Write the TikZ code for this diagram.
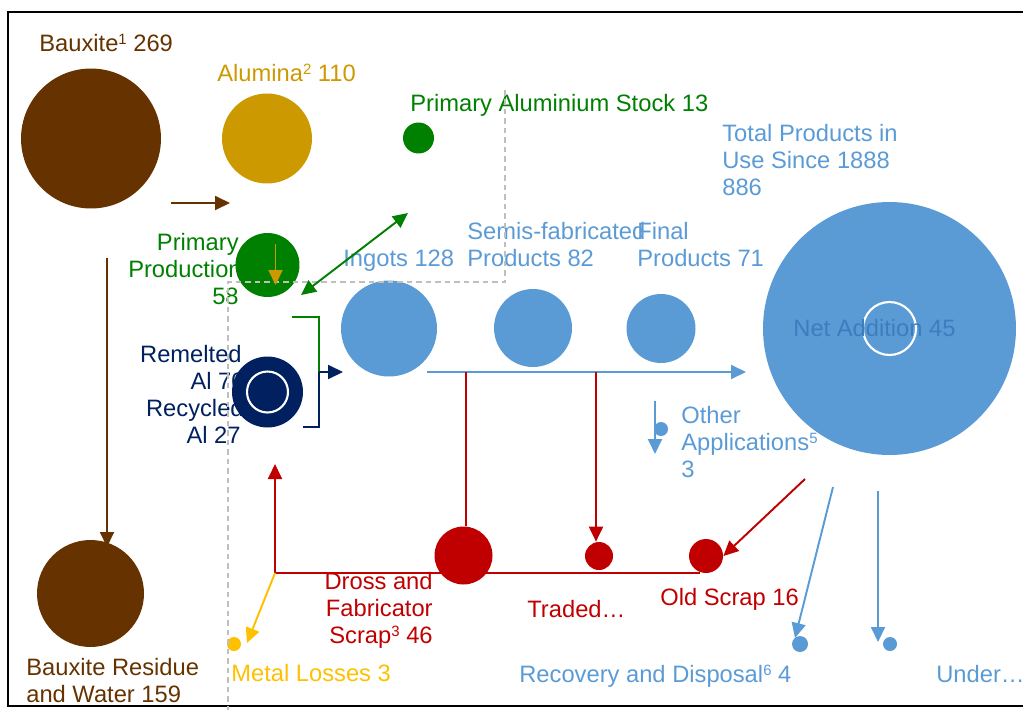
\documentclass[tikz,border=0pt]{standalone}
\usepackage{fontspec}
\setmainfont{Liberation Sans}
\usetikzlibrary{arrows.meta}

\definecolor{bauxitebrown}{HTML}{663300}
\definecolor{aluminagold}{HTML}{CC9900}
\definecolor{primarygreen}{HTML}{008000}
\definecolor{productblue}{HTML}{5B9BD5}
\definecolor{netblue}{HTML}{3D7DBF}
\definecolor{scrapnavy}{HTML}{002060}
\definecolor{scrapred}{HTML}{C00000}
\definecolor{lossyellow}{HTML}{FFC000}
\definecolor{boundarygrey}{HTML}{BFBFBF}

\newcommand{\notemark}[1]{\raisebox{0.55ex}{\fontsize{8.5}{8.5}\selectfont #1}}

\tikzset{
  blob/.style={circle, inner sep=0pt, fill=#1},
  ring/.style={circle, inner sep=0pt, draw=white, line width=1.2pt},
  txt/.style={text=#1, inner sep=0pt},
  flow/.style={draw=#1, line width=1.1pt, -{Triangle[length=3mm,width=2.8mm]}},
  plainflow/.style={draw=#1, line width=1.1pt},
  boundary/.style={draw=boundarygrey, line width=0.8pt, dash pattern=on 1.1mm off 0.8mm},
}

\begin{document}
\begin{tikzpicture}[x=0.02cm, y=-0.02cm, font=\fontsize{13.5}{15}\selectfont]
		\useasboundingbox (0,0) rectangle (1023,710);
		\draw[line width=1pt] (8,12) rectangle (1060,706);
		% labels
		\node[txt=bauxitebrown, anchor=base west] (bauxitetext) at (39,51) {Bauxite\notemark{1} 269};
		\node[txt=aluminagold, anchor=base west] (aluminatext) at (217,81) {Alumina\notemark{2} 110};
		\node[txt=primarygreen, anchor=base west] (stocktext) at (410,111) {Primary Aluminium Stock 13};
		\node[txt=productblue, anchor=base west] (totalline1) at (722,141) {Total Products in};
		\node[txt=productblue, anchor=base west] (totalline2) at (722,168) {Use Since 1888};
		\node[txt=productblue, anchor=base west] (totalline3) at (722,195) {886};
		\node[txt=primarygreen, anchor=base east] (primaryline1) at (239,250) {Primary};
		\node[txt=primarygreen, anchor=base east] (primaryline2) at (242,277) {Production};
		\node[txt=primarygreen, anchor=base east] (primaryline3) at (239,304) {58};
		\node[txt=productblue, anchor=base west] (ingotstext) at (343,266) {Ingots 128};
		\node[txt=productblue, anchor=base west] (semisline1) at (467,239) {Semis-fabricated};
		\node[txt=productblue, anchor=base west] (semisline2) at (467,266) {Products 82};
		\node[txt=productblue, anchor=base west] (finalline1) at (637,239) {Final};
		\node[txt=productblue, anchor=base west] (finalline2) at (637,266) {Products 71};
		\node[txt=scrapnavy, anchor=base east] (remeltline1) at (242,362) {Remelted};
		\node[txt=scrapnavy, anchor=base east] (remeltline2) at (245,389) {Al 70};
		\node[txt=scrapnavy, anchor=base east] (recycleline1) at (244,416) {Recycled};
		\node[txt=scrapnavy, anchor=base east] (recycleline2) at (241,443) {Al 27};
		\node[txt=productblue, anchor=base west] (otherline1) at (681,423) {Other};
		\node[txt=productblue, anchor=base west] (otherline2) at (681,450) {Applications\notemark{5}};
		\node[txt=productblue, anchor=base west] (otherline3) at (681,477) {3};
		\node[txt=scrapred, anchor=base east] (drossline1) at (433,589) {Dross and};
		\node[txt=scrapred, anchor=base east] (drossline2) at (433,616) {Fabricator};
		\node[txt=scrapred, anchor=base east] (drossline3) at (433,643) {Scrap\notemark{3} 46};
		\node[txt=scrapred, anchor=base west] (tradedtext) at (527,617) {Traded\dots};
		\node[txt=scrapred, anchor=base west] (oldscraptext) at (660,605) {Old Scrap 16};
		\node[txt=lossyellow, anchor=base west] (lossestext) at (231,681) {Metal Losses 3};
		\node[txt=productblue, anchor=base west] (recoverytext) at (519,682) {Recovery and Disposal\notemark{6} 4};
		\node[txt=productblue, anchor=base west] (undertext) at (936,682) {Under\dots};
		\node[txt=bauxitebrown, anchor=base west] (residueline1) at (26,675) {Bauxite Residue};
		\node[txt=bauxitebrown, anchor=base west] (residueline2) at (26,702) {and Water 159};
		% stocks and flows as circles
		\node[blob=bauxitebrown, minimum size=2.8cm] (bauxite) at (91,138.5) {};
		\node[blob=aluminagold, minimum size=1.8cm] (alumina) at (267,138.5) {};
		\node[blob=primarygreen, minimum size=0.62cm] (stock) at (418.5,138) {};
		\node[blob=primarygreen, minimum size=1.28cm] (primary) at (267.5,265) {};
		\node[blob=scrapnavy, minimum size=1.42cm] (remelt) at (267.5,392) {};
		\node[ring, minimum size=0.82cm] (recycle) at (remelt) {};
		\node[blob=productblue, minimum size=1.92cm] (ingots) at (389,328.5) {};
		\node[blob=productblue, minimum size=1.56cm] (semis) at (533,328) {};
		\node[blob=productblue, minimum size=1.38cm] (final) at (661,328.5) {};
		\node[blob=productblue, minimum size=5.06cm] (total) at (889.5,328.5) {};
		\node[ring, minimum size=1.06cm] (netadd) at (total) {};
		\node[txt=netblue, anchor=base] (nettext) at (874.5,336) {Net Addition 45};
		\node[blob=productblue, minimum size=0.28cm] (otherapp) at (661,429) {};
		\node[blob=scrapred, minimum size=1.16cm] (dross) at (463.5,555.5) {};
		\node[blob=scrapred, minimum size=0.56cm] (traded) at (599,556) {};
		\node[blob=scrapred, minimum size=0.68cm] (oldscrap) at (706,556) {};
		\node[blob=lossyellow, minimum size=0.28cm] (losses) at (234,644) {};
		\node[blob=productblue, minimum size=0.32cm] (recovery) at (800,644) {};
		\node[blob=productblue, minimum size=0.28cm] (under) at (890,644) {};
		\node[blob=bauxitebrown, minimum size=2.14cm] (residue) at (90.5,593.5) {};
		% system boundary
		\draw[boundary] (505,90) -- (505,282) -- (228,282) -- (228,710);
		% connectors
		\coordinate (bauxiteout) at (171,203);
		\coordinate (aluminain) at (230,203);
		\coordinate (residueout) at (107,258);
		\coordinate (residuein) at (107,547);
		\coordinate (aluminaout) at (275.5,244);
		\coordinate (primaryin) at (275.5,285);
		\coordinate (stockout) at (301,295);
		\coordinate (stockin) at (408,213);
		\coordinate (greenbracket) at (292,317);
		\coordinate (navybracket) at (303,427);
		\coordinate (bracketmid) at (319,372);
		\coordinate (ingotsin) at (343,372);
		\coordinate (productsout) at (427,372);
		\coordinate (totalin) at (746,372);
		\coordinate (drossdrop) at (466,372);
		\coordinate (tradeddrop) at (596,372);
		\coordinate (scrapreturn) at (275,573);
		\coordinate (scrapend) at (700,573);
		\coordinate (remeltin) at (275,464);
		\coordinate (lossesin) at (247,643);
		\coordinate (oldscrapsrc) at (805,479);
		\coordinate (recoverysrc) at (833,487);
		\coordinate (recoveryin) at (795,638);
		\coordinate (undersrc) at (878,491);
		\coordinate (underin) at (878,642);
		\coordinate (othersrc) at (655,401);
		\coordinate (otherin) at (655,454);
		\draw[flow=bauxitebrown] (bauxiteout) -- (aluminain);
		\draw[flow=bauxitebrown] (residueout) -- (residuein);
		\draw[flow=aluminagold] (aluminaout) -- (primaryin);
		\draw[flow=primarygreen, {Triangle[length=3mm,width=2.8mm]}-{Triangle[length=3mm,width=2.8mm]}] (stockout) -- (stockin);
		\draw[plainflow=primarygreen] (greenbracket) -| (bracketmid);
		\draw[plainflow=scrapnavy] (navybracket) -| (bracketmid);
		\draw[flow=scrapnavy] (bracketmid) -- (ingotsin);
		\draw[flow=productblue] (productsout) -- (totalin);
		\draw[plainflow=scrapred] (drossdrop) -- (drossdrop |- dross.north);
		\draw[flow=scrapred] (tradeddrop) -- (tradeddrop |- traded.north);
		\draw[plainflow=scrapred] (scrapreturn) -- (scrapend);
		\draw[flow=scrapred] (scrapreturn) -- (remeltin);
		\draw[flow=scrapred] (oldscrapsrc) -- (oldscrap.east);
		\draw[flow=lossyellow] (scrapreturn) -- (lossesin);
		\draw[flow=productblue] (recoverysrc) -- (recoveryin);
		\draw[flow=productblue] (undersrc) -- (underin);
		\draw[flow=productblue] (othersrc) -- (otherin);
\end{tikzpicture}
\end{document}
